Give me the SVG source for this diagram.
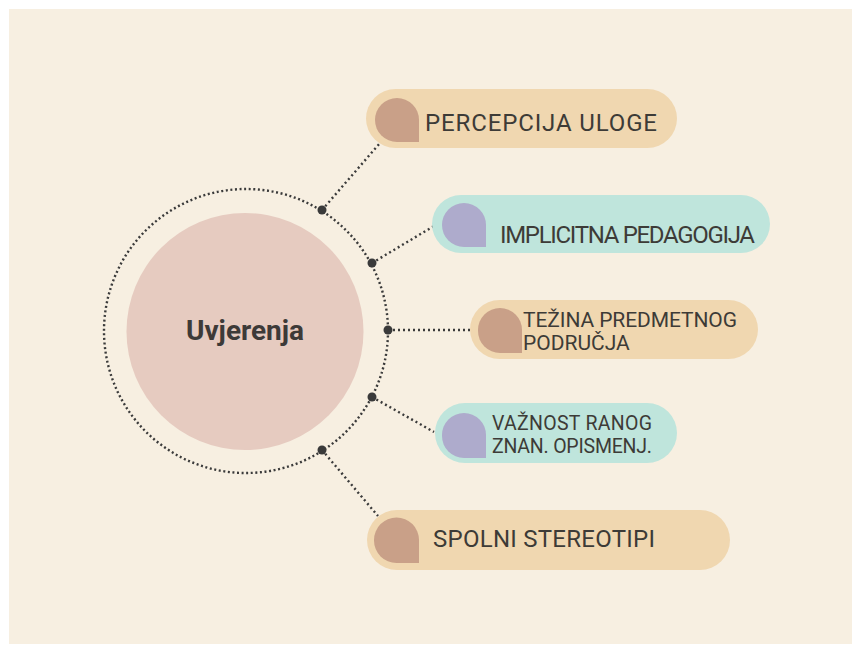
<svg xmlns="http://www.w3.org/2000/svg" width="852" height="645" viewBox="0 0 852 645">
<defs>
<style>
.bg{fill:#f7efe1}
.pill-o{fill:#f0d7b0}
.pill-t{fill:#bfe5dc}
.ico-o{fill:#c9a088}
.ico-t{fill:#aeabcc}
.lbl{font-family:Roboto,"Liberation Sans",sans-serif;fill:#3d3b37;font-size:24px}
.lbl2{font-family:Roboto,"Liberation Sans",sans-serif;fill:#3d3b37;font-size:21px}
.lbl3{font-family:Roboto,"Liberation Sans",sans-serif;fill:#3d3b37;font-size:19.5px}
.conn{stroke:#3a3a3a;stroke-width:2.4;stroke-dasharray:2 3;fill:none}
.ring{stroke:#3a3a3a;stroke-width:2.4;stroke-dasharray:2 2.6;fill:none}
.dot{fill:#3a3a3a}
.center{font-family:Roboto,"Liberation Sans",sans-serif;font-weight:bold;font-size:28px;fill:#3d3a38}
</style>
</defs>
<rect class="bg" x="9" y="9" width="843" height="635"/>
<g id="connectors">
<circle class="ring" cx="246" cy="331" r="142"/>
<line class="conn" x1="322" y1="210" x2="380" y2="143"/>
<line class="conn" x1="372" y1="263" x2="434" y2="226"/>
<line class="conn" x1="388" y1="330" x2="470" y2="330"/>
<line class="conn" x1="372" y1="397" x2="434" y2="432"/>
<line class="conn" x1="322" y1="450" x2="378" y2="516"/>
<circle class="dot" cx="322" cy="210" r="4.5"/>
<circle class="dot" cx="372" cy="263" r="4.5"/>
<circle class="dot" cx="388" cy="330" r="4.5"/>
<circle class="dot" cx="372" cy="397" r="4.5"/>
<circle class="dot" cx="322" cy="450" r="4.5"/>
</g>
<g id="center">
<circle cx="245" cy="331.5" r="118.5" fill="#e6cbc0"/>
<text class="center" x="245" y="340" text-anchor="middle" textLength="118">Uvjerenja</text>
</g>
<g id="n1">
<rect class="pill-o" x="366" y="89" width="311" height="59" rx="29.5"/>
<path class="ico-o" d="M375 120a22 22 0 0 1 44 0v22h-22a22 22 0 0 1-22-22z"/>
<text class="lbl" x="425" y="131" textLength="232">PERCEPCIJA ULOGE</text>
</g>
<g id="n2">
<rect class="pill-t" x="432" y="195" width="338" height="58" rx="29"/>
<path class="ico-t" d="M442 225a22 22 0 0 1 44 0v22h-22a22 22 0 0 1-22-22z"/>
<text class="lbl" x="500" y="243" textLength="255">IMPLICITNA PEDAGOGIJA</text>
</g>
<g id="n3">
<rect class="pill-o" x="470" y="300" width="288" height="59" rx="29.5"/>
<path class="ico-o" d="M478 330a22 22 0 0 1 44 0v23h-22a22 22 0 0 1-22-22z"/>
<text class="lbl2" x="523" y="327" textLength="214">TEŽINA PREDMETNOG</text>
<text class="lbl2" x="523" y="350">PODRUČJA</text>
</g>
<g id="n4">
<rect class="pill-t" x="435" y="403" width="242" height="60" rx="30"/>
<path class="ico-t" d="M442 435a22 22 0 0 1 44 0v23h-22a22 22 0 0 1-22-22z"/>
<text class="lbl3" x="492" y="430" textLength="160">VAŽNOST RANOG</text>
<text class="lbl3" x="492" y="453" textLength="160">ZNAN. OPISMENJ.</text>
</g>
<g id="n5">
<rect class="pill-o" x="367" y="510" width="363" height="60" rx="30"/>
<path class="ico-o" d="M374 540a22.5 22.5 0 0 1 45 0v23h-22.5a22.5 22.5 0 0 1-22.5-22.5z"/>
<text class="lbl" x="433" y="547" textLength="222">SPOLNI STEREOTIPI</text>
</g>
</svg>
